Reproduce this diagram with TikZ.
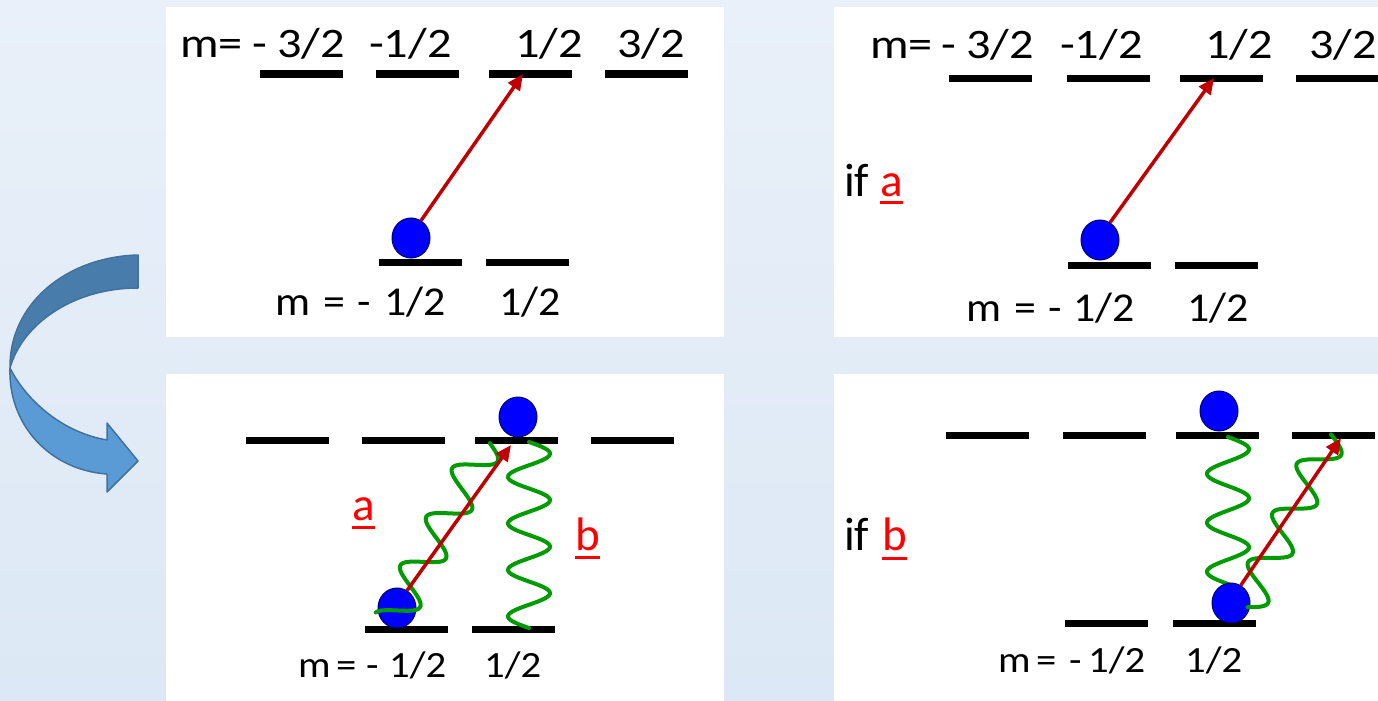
\documentclass[tikz,border=0pt]{standalone}
\usepackage{fontspec}
\setmainfont{Carlito}
\newfontfamily\fonttop[FakeStretch=1.15]{Carlito}
\newfontfamily\fontlow[FakeStretch=1.07]{Carlito}
\newfontfamily\fontbot[FakeStretch=1.1]{Carlito}
\usetikzlibrary{arrows.meta,shapes.geometric}
\definecolor{bgtop}{RGB}{233,240,249}
\definecolor{bgbot}{RGB}{220,232,245}
\definecolor{ballblue}{RGB}{0,0,255}
\definecolor{ballline}{RGB}{0,0,110}
\definecolor{arrred}{RGB}{192,0,0}
\definecolor{wavegreen}{RGB}{0,155,0}
\definecolor{cadark}{RGB}{72,125,171}
\definecolor{calight}{RGB}{91,155,213}
\definecolor{caline}{RGB}{65,113,156}
\definecolor{lblred}{RGB}{255,0,0}
\begin{document}
\begin{tikzpicture}[x=1pt,y=-1pt,
 levelbar/.style={rectangle, fill=black, draw=none, minimum width=83pt, minimum height=7pt, inner sep=0},
 electron/.style={ellipse, fill=ballblue, draw=ballline, line width=1pt, minimum width=38pt, minimum height=40pt, inner sep=0},
 txtbig/.style={font=\fonttop\fontsize{42}{50}\selectfont, inner sep=0, anchor=base west},
 txtlow/.style={font=\fontlow\fontsize{41}{48}\selectfont, inner sep=0, anchor=base west},
 txtsmall/.style={font=\fontbot\fontsize{37}{44}\selectfont, inner sep=0, anchor=base west},
 txthuge/.style={font=\fontsize{47}{55}\selectfont, inner sep=0, anchor=base west},
 redlbl/.style={text=lblred},
 ul/.style={draw=lblred, line width=3pt},
 excite/.style={draw=arrred, line width=3.5pt, -{Triangle[length=16pt,width=14pt]}},
 gwave/.style={draw=wavegreen, line width=4pt, line join=round, line cap=round},
 whitepanel/.style={fill=white, draw=none}]
\useasboundingbox (0,0) rectangle (1378,701);
\clip (0,0) rectangle (1378,701);
\shade[top color=bgtop, bottom color=bgbot] (0,0) rectangle (1378,701);
% panels
\path[whitepanel] (166,7) rectangle (724,337);
\path[whitepanel] (834,7) rectangle (1378,337);
\path[whitepanel] (166,374) rectangle (724,701);
\path[whitepanel] (834,374) rectangle (1378,701);
% curved arrow
\filldraw[fill=cadark, draw=caline, line width=1.5pt, line join=round]
  (138,255) .. controls (65,257) and (9,305) .. (10,368)
  .. controls (22,325) and (72,288) .. (138,288) -- cycle;
\filldraw[fill=calight, draw=caline, line width=1.5pt, line join=round]
  (10,368) .. controls (8,425) and (50,470) .. (107,474)
  -- (107,492) -- (138,461) -- (107,423) -- (107,440)
  .. controls (60,432) and (25,398) .. (10,368) -- cycle;
% ---------- top left ----------
\node[levelbar] (tlu1) at (301.5,74) {};
\node[levelbar] (tlu2) at (417,74) {};
\node[levelbar] (tlu3) at (530,74) {};
\node[levelbar] (tlu4) at (646.5,74) {};
\node[levelbar] (tll1) at (420.5,262) {};
\node[levelbar] (tll2) at (527,262) {};
\node[electron] (tle) at (411,238) {};
\draw[excite] (tle.60) -- ([xshift=-7pt]tlu3.center);
\node[txtbig] (tlt1) at (180,57) {m=};
\node[txtbig] (tlt2) at (252,57) {-};
\node[txtbig] (tlt3) at (277,57) {3/2};
\node[txtbig] (tlt4) at (369,57) {-1/2};
\node[txtbig] (tlt5) at (515,57) {1/2};
\node[txtbig] (tlt6) at (617,57) {3/2};
\node[txtlow] (tlb1) at (275,315) {m};
\node[txtlow] (tlb2) at (323,315) {=};
\node[txtlow] (tlb3) at (357,315) {-};
\node[txtlow] (tlb4) at (384,315) {1/2};
\node[txtlow] (tlb5) at (499,315) {1/2};
% ---------- top right ----------
\node[levelbar] (tru1) at (990,78) {};
\node[levelbar] (tru2) at (1108,78) {};
\node[levelbar] (tru3) at (1221,78) {};
\node[levelbar] (tru4) at (1337.5,78) {};
\node[levelbar] (trl1) at (1109.5,265) {};
\node[levelbar] (trl2) at (1216,265) {};
\node[electron] (tre) at (1100,240) {};
\draw[excite] (tre.60) -- ([xshift=-7pt]tru3.center);
\node[txtbig] (trt1) at (870,59) {m=};
\node[txtbig] (trt2) at (941,59) {-};
\node[txtbig] (trt3) at (966,59) {3/2};
\node[txtbig] (trt4) at (1060,59) {-1/2};
\node[txtbig] (trt5) at (1205,59) {1/2};
\node[txtbig] (trt6) at (1309,59) {3/2};
\node[txtlow] (trb1) at (966,321) {m};
\node[txtlow] (trb2) at (1014,321) {=};
\node[txtlow] (trb3) at (1048,321) {-};
\node[txtlow] (trb4) at (1073,321) {1/2};
\node[txtlow] (trb5) at (1187,321) {1/2};
\node[txthuge] (trif) at (844,196) {if};
\node[txthuge, redlbl] (tra) at (880,196) {a};
\draw[ul] ([yshift=-6pt]tra.base west) -- ([yshift=-6pt]tra.base east);
% ---------- bottom left ----------
\node[levelbar] (blu1) at (287.5,440) {};
\node[levelbar] (blu2) at (403,440) {};
\node[levelbar] (blu3) at (516,440) {};
\node[levelbar] (blu4) at (632.5,440) {};
\node[levelbar] (bll1) at (406,629) {};
\node[levelbar] (bll2) at (513.5,629) {};
\node[electron] (bleu) at (518,417) {};
\node[electron] (blel) at (397,608) {};
\draw[gwave] plot[domain=8:211, samples=160, variable=\s]
  ({388+0.470*\s+16.34*sin(6.545*\s-130)},{628-0.883*\s+8.70*sin(6.545*\s-130)});
\draw[gwave] plot[domain=442:628, samples=160, variable=\t]
  ({529+21*sin(7.742*(\t-442))},{\t});
\draw[excite] (blel.60) -- ([xshift=-5pt,yshift=-5pt]blu3.center);
\node[txthuge, redlbl] (bla) at (352,520) {a};
\draw[ul] ([yshift=-7pt]bla.base west) -- ([yshift=-7pt]bla.base east);
\node[txthuge, redlbl] (blb) at (575,550) {b};
\draw[ul] ([yshift=-7pt]blb.base west) -- ([yshift=-7pt]blb.base east);
\node[txtsmall] (blb1) at (298,677) {m};
\node[txtsmall] (blb2) at (336,677) {=};
\node[txtsmall] (blb3) at (366,677) {-};
\node[txtsmall] (blb4) at (389,677) {1/2};
\node[txtsmall] (blb5) at (484,677) {1/2};
% ---------- bottom right ----------
\node[levelbar] (bru1) at (987.5,435) {};
\node[levelbar] (bru2) at (1104.5,435) {};
\node[levelbar] (bru3) at (1217.5,435) {};
\node[levelbar] (bru4) at (1333.5,435) {};
\node[levelbar] (brl1) at (1106.5,623) {};
\node[levelbar] (brl2) at (1214,623) {};
\node[electron] (breu) at (1219,411) {};
\draw[gwave] plot[domain=437:585, samples=130, variable=\t]
  ({1228+21*sin(7.347*(\t-437))},{\t});
\node[electron] (brel) at (1231,603) {};
\draw[gwave] plot[domain=5:197, samples=160, variable=\s]
  ({1244+0.443*\s+16.13*sin(6.545*\s-28)},{611-0.896*\s+7.97*sin(6.545*\s-28)});
\draw[excite] (brel.61) -- ([xshift=7.5pt,yshift=-3pt]bru4.center);
\node[txthuge] (brif) at (844,550) {if};
\node[txthuge, redlbl] (brb) at (882,550) {b};
\draw[ul] ([yshift=-8pt]brb.base west) -- ([yshift=-8pt]brb.base east);
\node[txtsmall] (brb1) at (998,672) {m};
\node[txtsmall] (brb2) at (1036,672) {=};
\node[txtsmall] (brb3) at (1069,672) {-};
\node[txtsmall] (brb4) at (1088,672) {1/2};
\node[txtsmall] (brb5) at (1185,672) {1/2};
\end{tikzpicture}
\end{document}
